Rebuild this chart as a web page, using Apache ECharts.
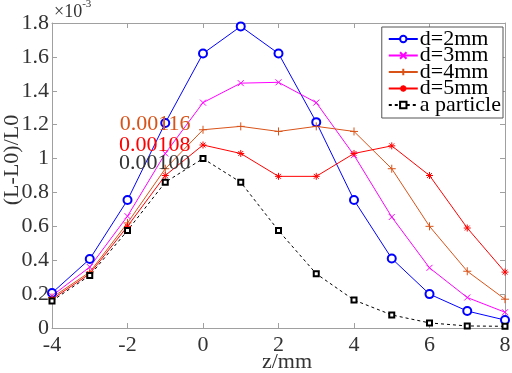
<!DOCTYPE html>
<html>
<head>
<meta charset="utf-8">
<script src="https://cdn.jsdelivr.net/npm/echarts@6/dist/echarts.min.js"></script>
<style>
  html, body { margin: 0; padding: 0; background: #fff; }
  #chart { width: 512px; height: 373px; }
</style>
</head>
<body>
<div id="chart"></div>
<script>
// z positions (mm)
const zValues = [-4, -3, -2, -1, 0, 1, 2, 3, 4, 5, 6, 7, 8]

// (L-L0)/L0, in units of 1e-3
const d2mm = [0.207, 0.407, 0.755, 1.21, 1.62, 1.78, 1.62, 1.215, 0.755, 0.41, 0.2, 0.1, 0.047]
const d3mm = [0.19, 0.36, 0.66, 1.03, 1.33, 1.445, 1.45, 1.33, 1.02, 0.655, 0.355, 0.18, 0.093]
const d4mm = [0.18, 0.33, 0.62, 0.94, 1.17, 1.19, 1.16, 1.19, 1.16, 0.94, 0.6, 0.335, 0.17]
const d5mm = [0.17, 0.32, 0.6, 0.9, 1.08, 1.03, 0.895, 0.895, 1.03, 1.075, 0.9, 0.59, 0.33]
const aParticle = [0.16, 0.31, 0.575, 0.86, 1.0, 0.86, 0.575, 0.32, 0.165, 0.077, 0.03, 0.012, 0.01]

// peak annotations at z = 0
const peakLabels = ["0.00116", "0.00108", "0.00100"]

const serif = "Liberation Serif"
const axisGray = "#a0a0a0"
const textColor = "#333"
const fontSize = 22

const chart = echarts.init(document.getElementById("chart"))

// 把数组转换成 [z, value] 点
const toPoints = (arr) => zValues.map((z, i) => [z, arr[i]])

const symX = "path://M0,0L10,10M10,0L0,10"
const symPlus = "path://M5,0L5,10M0,5L10,5"
const symStar = "path://M5,0L5,10M0,5L10,5M1.5,1.5L8.5,8.5M8.5,1.5L1.5,8.5"

const makeSeries = (name, arr, color, symbol, size, extra) => Object.assign({
  name,
  type: "line",
  data: toPoints(arr),
  symbol,
  symbolSize: size,
  showAllSymbol: true,
  lineStyle: { color, width: 1 },
  itemStyle: { color, borderColor: color, borderWidth: 1 },
  emphasis: { disabled: true },
  animation: false,
  z: 3,
}, extra || {})

const peakMark = (label, value, color) => ({
  symbol: "circle",
  symbolSize: 1,
  itemStyle: { color: "rgba(0,0,0,0)" },
  silent: true,
  data: [{
    coord: [0, value],
    label: {
      show: true,
      position: "left",
      distance: 12,
      formatter: label,
      color,
      fontFamily: serif,
      fontSize: fontSize,
    },
  }],
})

// 坐标轴公共样式
const axisBase = {
  type: "value",
  axisLine: { show: true, onZero: false, lineStyle: { color: axisGray } },
  axisTick: { inside: true, length: 5, lineStyle: { color: axisGray } },
  splitLine: { show: false },
}

const option = {
  animation: false,
  grid: { left: 52, right: 7, top: 23, bottom: 45, containLabel: false, outerBoundsMode: "none" },
  legend: {
    right: 9,
    top: 27,
    orient: "vertical",
    backgroundColor: "#fff",
    borderColor: "#555",
    borderWidth: 1,
    borderRadius: 0,
    padding: [1, 2, 2, 6],
    itemGap: -5.5,
    itemWidth: 29,
    itemHeight: 8,
    textStyle: { fontFamily: serif, fontSize: fontSize, color: "#000", padding: [0, 0, 0, -3] },
    data: ["d=2mm", "d=3mm", "d=4mm", "d=5mm", "a particle"],
  },
  xAxis: [
    Object.assign({}, axisBase, {
      min: -4,
      max: 8,
      interval: 2,
      axisLabel: { fontFamily: serif, fontSize: fontSize, color: textColor, margin: 6 },
    }),
    Object.assign({}, axisBase, {
      position: "top",
      min: -4,
      max: 8,
      interval: 2,
      axisLabel: { show: false },
    }),
  ],
  yAxis: [
    Object.assign({}, axisBase, {
      min: 0,
      max: 1.8,
      interval: 0.2,
      axisLabel: { fontFamily: serif, fontSize: fontSize, color: textColor, margin: 3 },
    }),
    Object.assign({}, axisBase, {
      position: "right",
      min: 0,
      max: 1.8,
      interval: 0.2,
      axisLabel: { show: false },
    }),
  ],
  graphic: [
    {
      type: "text",
      left: 54,
      top: -1,
      style: {
        text: "{a|×10}{b|-3}",
        rich: {
          a: { fontFamily: serif, fontSize: 18, fill: textColor, verticalAlign: "bottom", lineHeight: 22 },
          b: { fontFamily: serif, fontSize: 11, fill: textColor, verticalAlign: "top", lineHeight: 22, padding: [0, 0, 12, 0] },
        },
      },
    },
    {
      // x 轴名称
      type: "text",
      x: 287,
      y: 362,
      style: {
        text: "z/mm",
        fontFamily: serif,
        fontSize: fontSize,
        fill: textColor,
        align: "center",
        verticalAlign: "middle",
      },
    },
    {
      // y 轴名称
      type: "text",
      x: 12,
      y: 160,
      rotation: Math.PI / 2,
      style: {
        text: "(L-L0)/L0",
        fontFamily: serif,
        fontSize: fontSize,
        fill: textColor,
        align: "center",
        verticalAlign: "middle",
      },
    },
  ],
  series: [
    makeSeries("d=2mm", d2mm, "#0000ff", "emptyCircle", 8),
    makeSeries("d=3mm", d3mm, "#ff00ff", symX, 6),
    makeSeries("d=4mm", d4mm, "#d95319", symPlus, 8, { markPoint: peakMark(peakLabels[0], 1.2, "#d95319") }),
    makeSeries("d=5mm", d5mm, "#ff0000", symStar, 7, { markPoint: peakMark(peakLabels[1], 1.08, "#ff0000") }),
    makeSeries("a particle", aParticle, "#000", "emptyRect", 5, {
      lineStyle: { color: "#000", width: 1, type: [3, 3] },
      itemStyle: { color: "#000", borderColor: "#000", borderWidth: 0.8 },
      markPoint: peakMark(peakLabels[2], 0.97, "#333"),
    }),
  ],
}

chart.setOption(option)
</script>
</body>
</html>
